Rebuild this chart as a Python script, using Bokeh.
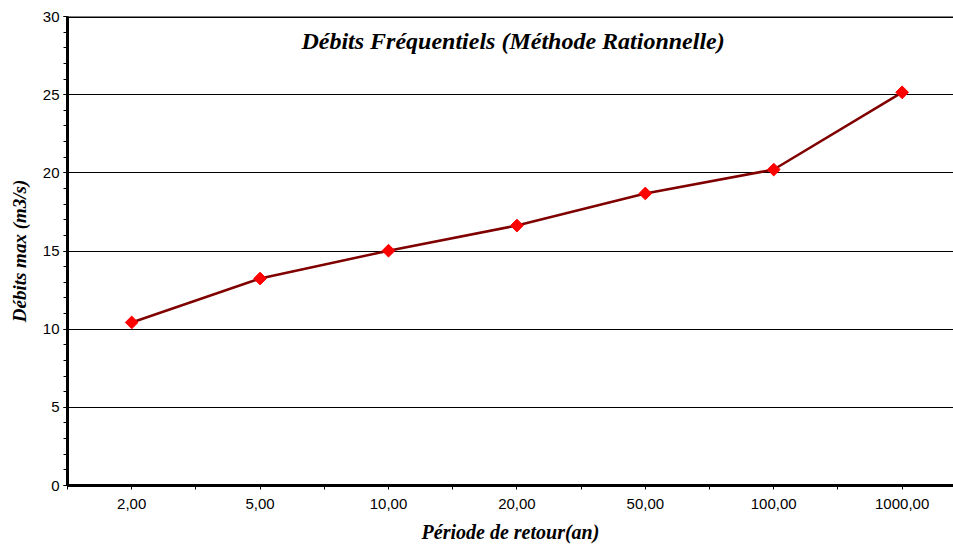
import math
from bokeh.plotting import figure
from bokeh.models import Range1d, FixedTicker, SingleIntervalTicker, Span, Label
from bokeh.embed import file_html
from bokeh.resources import INLINE

categories = ["2,00", "5,00", "10,00", "20,00", "50,00", "100,00", "1000,00"]
debits = [10.43, 13.24, 15.02, 16.63, 18.68, 20.21, 25.15]

title_text = "Débits Fréquentiels (Méthode Rationnelle)"
x_label = "Période de retour(an)"
y_label = "Débits max (m3/s)"

xs = list(range(len(categories)))

p = figure(width=953, height=545, output_backend="svg", toolbar_location=None,
           x_range=Range1d(-0.5, len(categories) - 0.6), y_range=Range1d(0, 30),
           min_border_left=67, min_border_right=0, min_border_top=16, min_border_bottom=60)
p.outline_line_color = None
p.background_fill_color = "white"
p.border_fill_color = "white"

# x axis
p.xaxis.ticker = FixedTicker(ticks=xs, minor_ticks=[i - 0.5 for i in range(len(categories) + 1)])
p.xaxis.major_label_overrides = {i: c for i, c in zip(xs, categories)}
p.xaxis.axis_line_width = 3
p.xaxis.axis_line_color = "black"
p.xaxis.major_tick_in = 0
p.xaxis.major_tick_out = 4
p.xaxis.minor_tick_in = 0
p.xaxis.minor_tick_out = 4
p.xaxis.major_tick_line_color = "black"
p.xaxis.minor_tick_line_color = "black"
p.xaxis.major_label_text_font = "Liberation Sans"
p.xaxis.major_label_text_font_size = "15px"
p.xaxis.major_label_text_color = "black"
p.xaxis.major_label_standoff = 9
p.xaxis.axis_label = x_label
p.xaxis.axis_label_text_font = "Liberation Serif"
p.xaxis.axis_label_text_font_style = "bold italic"
p.xaxis.axis_label_text_font_size = "20px"
p.xaxis.axis_label_text_color = "black"
p.xaxis.axis_label_standoff = 9

# y axis
p.yaxis.ticker = SingleIntervalTicker(interval=5, num_minor_ticks=5)
p.yaxis.axis_line_width = 3
p.yaxis.axis_line_color = "black"
p.yaxis.major_tick_in = 0
p.yaxis.major_tick_out = 4
p.yaxis.minor_tick_in = 0
p.yaxis.minor_tick_out = 4
p.yaxis.major_tick_line_color = "black"
p.yaxis.minor_tick_line_color = "black"
p.yaxis.major_label_text_font = "Liberation Sans"
p.yaxis.major_label_text_font_size = "15px"
p.yaxis.major_label_text_color = "black"
p.yaxis.major_label_standoff = 4
p.yaxis.axis_label = y_label
p.yaxis.axis_label_text_font = "Liberation Serif"
p.yaxis.axis_label_text_font_style = "bold italic"
p.yaxis.axis_label_text_font_size = "19px"
p.yaxis.axis_label_text_color = "black"
p.yaxis.axis_label_standoff = 10

p.xgrid.grid_line_color = None
p.ygrid.ticker = SingleIntervalTicker(interval=5)
p.ygrid.grid_line_color = "black"
p.ygrid.grid_line_width = 1

p.add_layout(Span(location=30, dimension="width", line_color="black", line_width=3))

p.line(xs, debits, line_color="#800000", line_width=2.5)
p.scatter(xs, debits, marker="square", angle=math.pi / 4, size=9, fill_color="red", line_color="red")

p.add_layout(Label(x=2.97, y=28.45, text=title_text, text_align="center", text_baseline="middle",
                   text_font="Liberation Serif", text_font_style="bold italic",
                   text_font_size="24px", text_color="black"))

open("out.html", "w").write(file_html(p, INLINE))
